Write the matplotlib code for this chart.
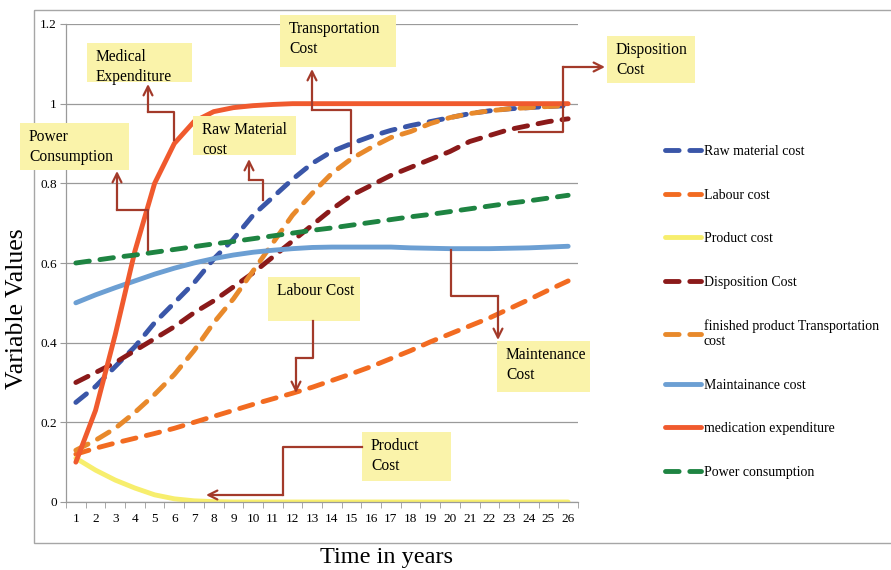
# -*- coding: utf-8 -*-
"""
cost curves over time, excel style line chart with callouts
"""

import matplotlib
matplotlib.use("Agg")
import matplotlib.pyplot as plt
from matplotlib.patches import Rectangle
from matplotlib.ticker import FixedLocator, FuncFormatter

plt.rcParams["font.family"] = ["Liberation Serif", "DejaVu Serif"]

# data
years = list(range(1, 27))

raw_material = [0.25, 0.29, 0.34, 0.39, 0.45, 0.50, 0.55, 0.61, 0.66, 0.72, 0.765, 0.81, 0.85,
                0.88, 0.90, 0.918, 0.933, 0.945, 0.955, 0.965, 0.975, 0.982, 0.987, 0.99, 0.993, 0.995]
labour = [0.12, 0.135, 0.148, 0.16, 0.172, 0.185, 0.20, 0.215, 0.23, 0.245, 0.259, 0.273, 0.288,
          0.305, 0.322, 0.34, 0.36, 0.38, 0.402, 0.422, 0.442, 0.462, 0.485, 0.508, 0.532, 0.555]
product = [0.11, 0.08, 0.055, 0.035, 0.018, 0.008, 0.003, 0.001, 0, 0, 0, 0, 0,
           0, 0, 0, 0, 0, 0, 0, 0, 0, 0, 0, 0, 0]
disposition = [0.30, 0.325, 0.35, 0.38, 0.41, 0.44, 0.475, 0.505, 0.54, 0.575, 0.615, 0.655, 0.695,
               0.735, 0.77, 0.795, 0.82, 0.84, 0.86, 0.88, 0.905, 0.92, 0.935, 0.945, 0.955, 0.962]
transport = [0.13, 0.155, 0.185, 0.225, 0.27, 0.32, 0.38, 0.45, 0.51, 0.58, 0.65, 0.72, 0.775,
             0.825, 0.862, 0.89, 0.915, 0.93, 0.95, 0.965, 0.975, 0.982, 0.987, 0.99, 0.993, 0.995]
maintenance = [0.50, 0.52, 0.538, 0.555, 0.572, 0.587, 0.60, 0.611, 0.62, 0.627, 0.632, 0.636, 0.639,
               0.64, 0.64, 0.64, 0.64, 0.638, 0.637, 0.636, 0.636, 0.636, 0.637, 0.638, 0.64, 0.642]
medication = [0.10, 0.23, 0.42, 0.63, 0.80, 0.90, 0.955, 0.98, 0.99, 0.995, 0.998, 1.0, 1.0,
              1.0, 1.0, 1.0, 1.0, 1.0, 1.0, 1.0, 1.0, 1.0, 1.0, 1.0, 1.0, 1.0]
power = [0.600, 0.607, 0.614, 0.620, 0.627, 0.634, 0.641, 0.648, 0.654, 0.661, 0.668, 0.675, 0.682,
         0.688, 0.695, 0.702, 0.709, 0.716, 0.722, 0.729, 0.736, 0.743, 0.750, 0.756, 0.763, 0.770]

labels = ["Raw material cost", "Labour cost", "Product cost", "Disposition Cost",
          "finished product Transportation\ncost", "Maintainance cost",
          "medication expenditure", "Power consumption"]
values = [raw_material, labour, product, disposition, transport, maintenance, medication, power]
colors = ["#3A56A8", "#F26B21", "#F7EE6D", "#8B1A1A", "#E8892B", "#6C9FD3", "#F05A2E", "#1E8442"]
dashed = [True, True, False, True, True, False, False, True]

# callouts: text, box (x0, y0, x1, y1) and connector path, in pixels of the picture
callouts = [
    ("Medical\nExpenditure", (87, 43, 192, 82), [(174, 140), (174, 112), (148, 112), (148, 84)]),
    ("Power\nConsumption", (20, 123, 129, 170), [(148, 250), (148, 210), (117, 210), (117, 171)]),
    ("Raw Material\ncost", (193, 116, 296, 155), [(263, 200), (263, 180), (249, 180), (249, 159)]),
    ("Transportation\nCost", (280, 15, 396, 67), [(351, 153), (351, 110), (312, 110), (312, 69)]),
    ("Disposition\nCost", (607, 36, 695, 83), [(519, 132), (563, 132), (563, 67), (605, 67)]),
    ("Labour Cost", (268, 277, 360, 321), [(313, 321), (313, 358), (296, 358), (296, 393)]),
    ("Maintenance\nCost", (497, 341, 590, 392), [(451, 250), (451, 296), (498, 296), (498, 340)]),
    ("Product\nCost", (362, 432, 451, 481), [(362, 447), (283, 447), (283, 495), (206, 495)]),
]

GRID = "#9A9A9A"
ARROW = "#A33A2A"

fig = plt.figure(figsize=(8.91, 5.70), dpi=100)
ax = fig.add_axes([66 / 891, 1 - 502 / 570, (578 - 66) / 891, (502 - 24) / 570])

# lines
for lab, vals, col, dsh in zip(labels, values, colors, dashed):
    line, = ax.plot(years, vals, color=col, lw=3.5, label=lab,
                    solid_capstyle="round", dash_capstyle="round")
    if dsh:
        line.set_dashes((2.8, 2.2))

# axes
ax.set_xlim(0.5, 26.5)
ax.set_ylim(0, 1.2)
ax.set_yticks([0, 0.2, 0.4, 0.6, 0.8, 1.0, 1.2])
ax.yaxis.set_major_formatter(FuncFormatter(lambda v, p: "%g" % round(v, 1)))
ax.set_xticks(years)
ax.xaxis.set_minor_locator(FixedLocator([y + 0.5 for y in [0] + years]))
ax.tick_params(axis="x", which="major", length=0, pad=8, labelsize=9.5)
ax.tick_params(axis="x", which="minor", length=4, color=GRID, direction="out")
ax.tick_params(axis="y", which="major", length=4.5, color=GRID, pad=2, labelsize=9.5)
ax.grid(axis="y", color=GRID, lw=0.9)
ax.set_axisbelow(True)
for s in ["top", "right"]:
    ax.spines[s].set_visible(False)
for s in ["left", "bottom"]:
    ax.spines[s].set_color(GRID)
    ax.spines[s].set_linewidth(0.9)

ax.set_xlabel("Time in years", fontsize=17.5, va="center")
ax.xaxis.set_label_coords((387 - 66) / 512, (502 - 558) / 478)
ax.set_ylabel("Variable Values", fontsize=18.5, va="center")
ax.yaxis.set_label_coords((17 - 66) / 512, (502 - 309) / 478)

# legend
ax.legend(loc="upper left", bbox_to_anchor=(665 / 891, 1 - 145 / 570),
          bbox_transform=fig.transFigure, frameon=False, fontsize=10,
          handlelength=2.6, handletextpad=0.2, labelspacing=2.2,
          borderpad=0, borderaxespad=0)

# overlay for border and callouts (pixel units)
ov = fig.add_axes([0, 0, 1, 1], zorder=5)
ov.set_xlim(0, 891)
ov.set_ylim(570, 0)
ov.axis("off")
ov.patch.set_alpha(0)

ov.add_patch(Rectangle((34, 10), 900, 533, fill=False, edgecolor="#A6A6A6", lw=1))

for txt, (x0, y0, x1, y1), path in callouts:
    ov.add_patch(Rectangle((x0, y0), x1 - x0, y1 - y0, facecolor="#FAF3AA", edgecolor="none"))
    ov.text(x0 + 9, y0 + 6, txt, ha="left", va="top", fontsize=11.2, linespacing=1.3)
    xs = [p[0] for p in path]
    ys = [p[1] for p in path]
    ov.plot(xs[:-1], ys[:-1], color=ARROW, lw=1.6)
    ov.annotate("", xy=path[-1], xytext=path[-2],
                arrowprops=dict(arrowstyle="->", color=ARROW, lw=1.6,
                                mutation_scale=16, shrinkA=0, shrinkB=0))

plt.savefig("out.png", dpi=100)
